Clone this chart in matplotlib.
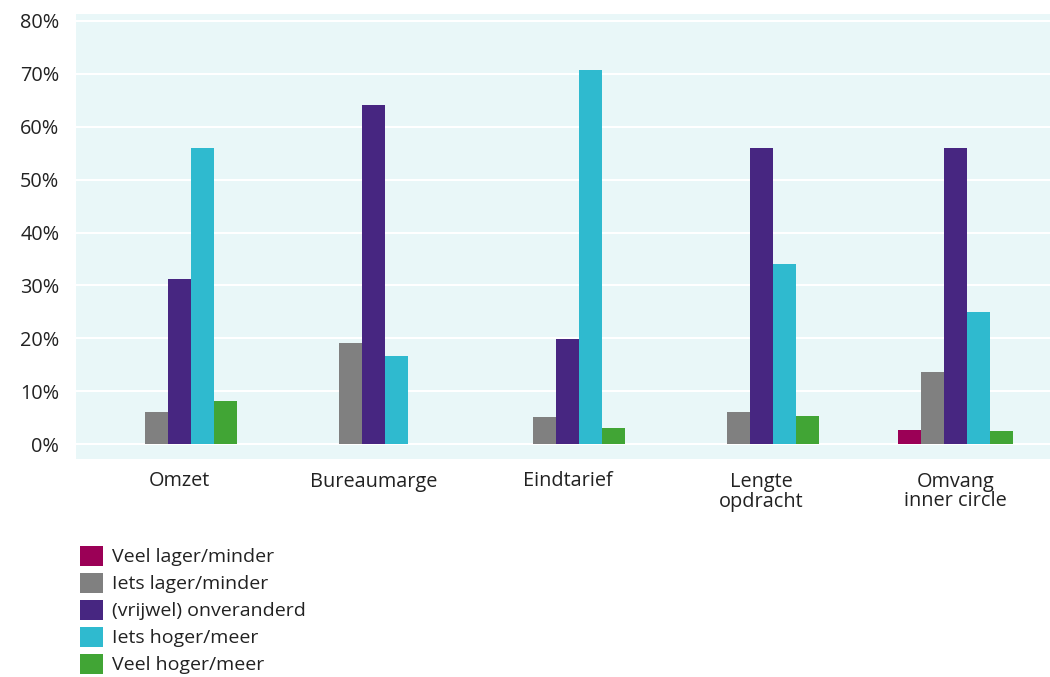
import matplotlib
matplotlib.use("Agg")
import matplotlib.pyplot as plt
from matplotlib.patches import Patch
import numpy as np

categories = ["Omzet", "Bureaumarge", "Eindtarief", "Lengte\nopdracht", "Omvang\ninner circle"]
series_names = ["Veel lager/minder", "Iets lager/minder", "(vrijwel) onveranderd",
                "Iets hoger/meer", "Veel hoger/meer"]
veel_lager = [0.0, 0.0, 0.0, 0.0, 2.7]
iets_lager = [6.1, 19.2, 5.2, 6.0, 13.7]
onveranderd = [31.3, 64.1, 19.9, 56.0, 56.0]
iets_hoger = [56.0, 16.7, 70.8, 34.0, 24.9]
veel_hoger = [8.2, 0.0, 3.1, 5.3, 2.5]
yticks = [0, 10, 20, 30, 40, 50, 60, 70, 80]

series = [veel_lager, iets_lager, onveranderd, iets_hoger, veel_hoger]
colors = ["#9B0056", "#808080", "#472681", "#2FBACF", "#41A535"]

plt.rcParams['font.family'] = ['Open Sans', 'DejaVu Sans']

fig = plt.figure(figsize=(10.5, 6.77), dpi=100)
ax = fig.add_axes([76/1050, 1-459/677, 974/1050, 445/677])
ax.set_facecolor("#E9F7F8")

x = np.arange(len(categories))
w = 0.1185
for i, (vals, c) in enumerate(zip(series, colors)):
    ax.bar(x + (i - 2) * w, vals, width=w, color=c, zorder=3, linewidth=0)

ax.set_xlim(-0.5335, 4.487)
ax.set_ylim(-2.8, 81.3)
ax.set_yticks(yticks)
ax.set_yticklabels([f"{v}%" for v in yticks])
ax.set_xticks(x)
ax.set_xticklabels(categories, linespacing=1.0)
ax.grid(axis='y', color='white', linewidth=1.5, zorder=1)
ax.set_axisbelow(True)
for s in ax.spines.values():
    s.set_visible(False)
ax.tick_params(axis='both', length=0, labelsize=14.3, colors='#222222')
ax.tick_params(axis='y', pad=12)
ax.tick_params(axis='x', pad=9)

handles = [Patch(facecolor=c, edgecolor='none') for c in colors]
fig.legend(handles, series_names, loc='upper left', bbox_to_anchor=(74/1050, 1-540/677),
           frameon=False, fontsize=14, handlelength=1.2, handleheight=1.2,
           labelspacing=0.33, handletextpad=0.45, borderaxespad=0, borderpad=0.3,
           labelcolor='#222222')

fig.savefig("out.png", dpi=100)
